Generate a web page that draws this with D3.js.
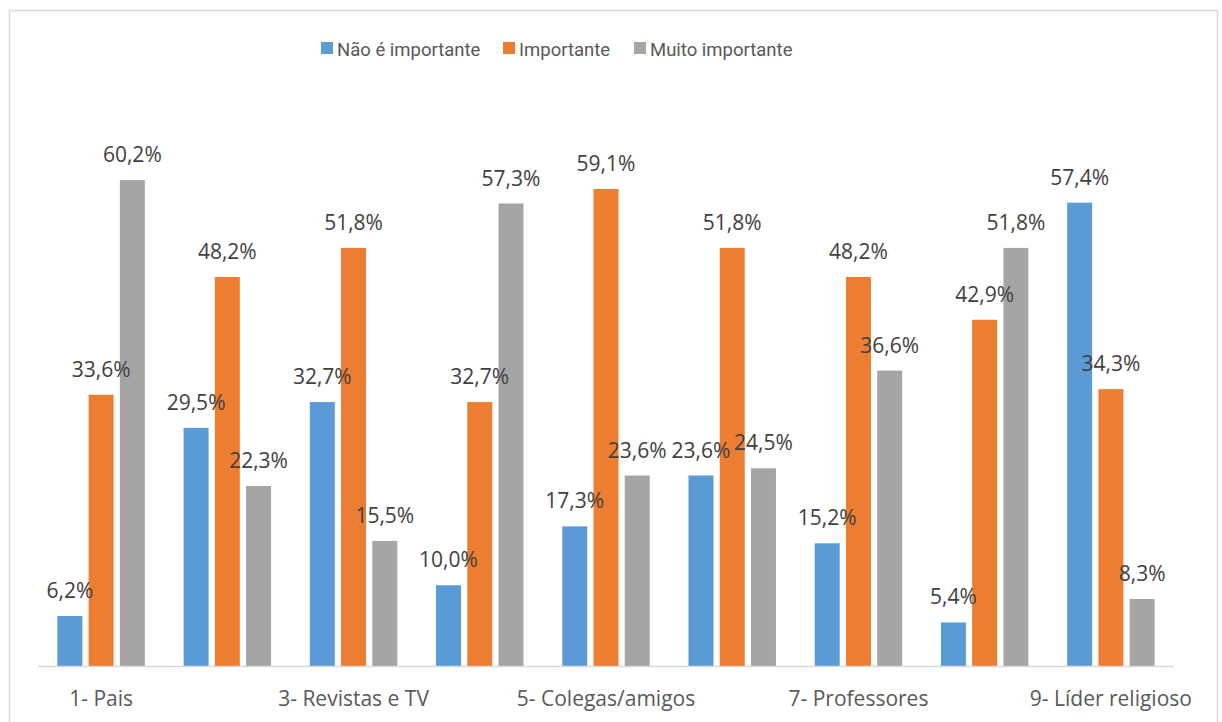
<!DOCTYPE html>
<html>
<head>
<meta charset="utf-8">
<style>
body { margin: 0; background: #fff; }
text { font-family: "Open Sans", sans-serif; }
.lbl { fill: #404040; font-size: 21px; }
.legend text { fill: #595959; font-size: 18.5px; font-family: Roboto, sans-serif; }
.xlab { fill: #595959; font-size: 21px; }
</style>
</head>
<body>
<script src="https://cdn.jsdelivr.net/npm/d3@7"></script>
<script>
// categories (only odd ones have visible labels in the original)
var categories = ["1", "2", "3", "4", "5", "6", "7", "8", "9"];
var tickLabels = ["1- Pais", "", "3- Revistas e TV", "", "5- Colegas/amigos", "", "7- Professores", "", "9- Líder religioso"];

var series = ["Não é importante", "Importante", "Muito importante"];
var naoImportante = [6.2, 29.5, 32.7, 10.0, 17.3, 23.6, 15.2, 5.4, 57.4];
var importante = [33.6, 48.2, 51.8, 32.7, 59.1, 51.8, 48.2, 42.9, 34.3];
var muitoImportante = [60.2, 22.3, 15.5, 57.3, 23.6, 24.5, 36.6, 51.8, 8.3];
var colors = ["#5B9BD5", "#ED7D31", "#A5A5A5"];

var width = 1222, height = 722;

var svg = d3.select("body").append("svg")
    .attr("width", width)
    .attr("height", height);

// outer frame
svg.append("rect")
    .attr("x", 9.5).attr("y", 10.5)
    .attr("width", 1208).attr("height", 720)
    .attr("fill", "#fff")
    .attr("stroke", "#d9d9d9")
    .attr("stroke-width", 1.5);

var values = [naoImportante, importante, muitoImportante];
var rows = categories.map(function(c, i) {
  return { cat: c, vals: values.map(function(v, s) { return { s: s, v: v[i] }; }) };
});

var x0 = d3.scaleBand()
    .domain(categories)
    .range([38, 1174])
    .paddingInner(0.307)
    .paddingOuter(0.1535);

var x1 = d3.scaleBand()
    .domain(d3.range(series.length))
    .range([0, x0.bandwidth()])
    .paddingInner(0.2);

var y = d3.scaleLinear()
    .domain([0, 70])
    .range([666, 101]);

var fmt = function(v) { return d3.format(".1f")(v).replace(".", ",") + "%"; };

var groups = svg.append("g").selectAll("g")
    .data(rows)
    .enter().append("g")
    .attr("transform", function(d) { return "translate(" + x0(d.cat) + ",0)"; });

groups.selectAll("rect")
    .data(function(d) { return d.vals; })
    .enter().append("rect")
    .attr("x", function(d) { return x1(d.s); })
    .attr("y", function(d) { return y(d.v); })
    .attr("width", x1.bandwidth())
    .attr("height", function(d) { return y(0) - y(d.v); })
    .attr("fill", function(d) { return colors[d.s]; });

// axis line
svg.append("line")
    .attr("x1", 38).attr("x2", 1174)
    .attr("y1", y(0) + 0.5).attr("y2", y(0) + 0.5)
    .attr("stroke", "#d9d9d9")
    .attr("stroke-width", 1.5);

// data labels (drawn after all bars so they sit on top)
var labelLayer = svg.append("g");
rows.forEach(function(r) {
  r.vals.forEach(function(d) {
    labelLayer.append("text")
      .attr("class", "lbl")
      .attr("x", x0(r.cat) + x1(d.s) + x1.bandwidth() / 2)
      .attr("y", y(d.v) - 18)
      .attr("text-anchor", "middle")
      .text(fmt(d.v));
  });
});

// category labels
svg.append("g").selectAll("text")
    .data(categories)
    .enter().append("text")
    .attr("class", "xlab")
    .attr("x", function(d) { return x0(d) + x0.bandwidth() / 2; })
    .attr("y", 706)
    .attr("text-anchor", "middle")
    .text(function(d, i) { return tickLabels[i]; });

// legend
var legend = svg.append("g").attr("class", "legend");
var legendX = [321, 503, 634];
series.forEach(function(name, i) {
  legend.append("rect")
    .attr("x", legendX[i]).attr("y", 42)
    .attr("width", 12).attr("height", 12)
    .attr("fill", colors[i]);
  legend.append("text")
    .attr("x", legendX[i] + 16)
    .attr("y", 56)
    .text(name);
});
</script>
</body>
</html>
